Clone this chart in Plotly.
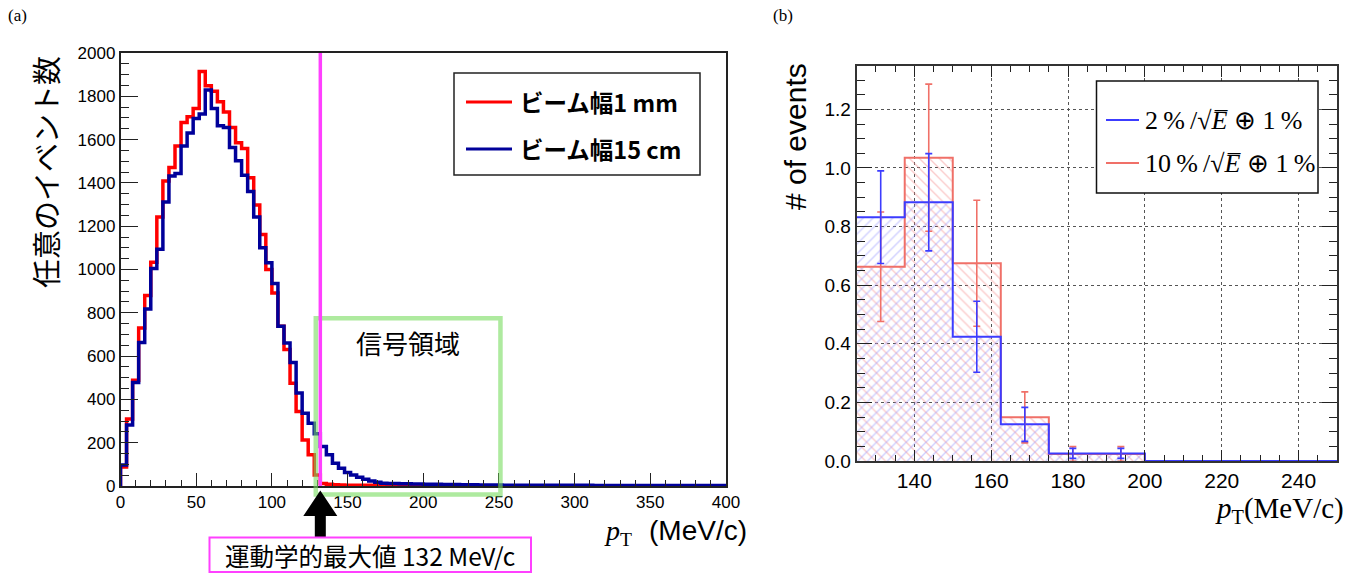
import plotly.graph_objects as go

W, H = 1369, 574

# ---------------- panel (a) data ----------------
a_bin_width = 4  # MeV/c
a_nbins = 100
red_1mm = [88, 310, 488, 730, 880, 1034, 1242, 1409, 1471, 1571, 1679, 1705, 1744, 1914, 1849, 1823,
           1775, 1728, 1656, 1586, 1559, 1424, 1298, 1162, 1000, 892, 738, 630, 475, 344, 213, 144, 51,
           12, 8, 6, 5, 4, 4, 3, 3, 3, 2,
           2, 2, 2, 2, 1, 1, 1, 1, 1, 1,
           1, 1, 1, 1, 1, 0, 0, 0, 0, 0,
           0, 0, 0, 0, 0, 0, 0, 0, 0, 0,
           0, 0, 0, 0, 0, 0, 0, 0, 0, 0,
           0, 0, 0, 0, 0, 0, 0, 0, 0, 0,
           0, 0, 0, 0, 0, 0, 0]
blue_15cm = [97, 282, 478, 663, 818, 1005, 1093, 1312, 1432, 1443, 1571, 1630, 1698, 1718, 1829, 1744,
             1664, 1656, 1563, 1502, 1435, 1360, 1242, 1100, 1031, 935, 738, 661, 571, 429, 336, 290, 241, 182, 144,
             105, 82, 62, 51, 40, 31, 23, 17, 13, 12,
             11, 10, 10, 9, 9, 8, 8, 8, 7, 7,
             7, 6, 6, 6, 5, 5, 5, 5, 4, 4,
             4, 4, 4, 4, 3, 3, 3, 3, 3, 3,
             3, 3, 3, 2, 2, 2, 2, 2, 2, 2,
             2, 2, 2, 2, 2, 2, 2, 2, 2, 2,
             2, 2, 2, 2, 2]
a_legend = ["ビーム幅1 mm", "ビーム幅15 cm"]
kin_max = 132
kin_label = "運動学的最大値 132 MeV/c"
signal_label = "信号領域"
signal_x = (129, 251)
signal_top = 775

# ---------------- panel (b) data ----------------
b_start = 125
b_bin_width = 12.5
b_nbins = 10
blue_2pct = [0.832, 0.883, 0.424, 0.125, 0.026, 0.026, 0, 0, 0, 0]
blue_2pct_err = [0.158, 0.166, 0.121, 0.058, 0.017, 0.017, 0, 0, 0, 0]
red_10pct = [0.663, 1.035, 0.675, 0.149, 0.024, 0.024, 0, 0, 0, 0]
red_10pct_err = [0.187, 0.251, 0.215, 0.087, 0.025, 0.025, 0, 0, 0, 0]
b_legend = ["2\u2009%\u2009/\u221a<i>E\u0305</i> \u2295 1\u2009%",
            "10\u2009%\u2009/\u221a<i>E\u0305</i> \u2295 1\u2009%"]

# ---------------- geometry (pixels) ----------------
A_L, A_R, A_T, A_B = 120.5, 726, 53, 486
B_L, B_R, B_T, B_B = 856.7, 1337, 66, 461
A_XR = (0, 400); A_YR = (0, 2000)
B_XR = (125, 250); B_YR = (0, 1.348)


def px(x):
    return x / W


def py(y):
    return 1 - y / H


def ax_px(v):  # panel (a) data x -> pixel
    return A_L + (v - A_XR[0]) / (A_XR[1] - A_XR[0]) * (A_R - A_L)


def ay_px(v):
    return A_B - (v - A_YR[0]) / (A_YR[1] - A_YR[0]) * (A_B - A_T)


def step_xy(edges, vals, start_zero=True):
    xs = list(edges)
    ys = list(vals) + [vals[-1]]
    if start_zero:
        xs = [edges[0]] + xs
        ys = [0] + ys
    return xs, ys


a_edges = [i * a_bin_width for i in range(a_nbins + 1)]
b_edges = [b_start + i * b_bin_width for i in range(b_nbins + 1)]
b_centers = [b_start + (i + 0.5) * b_bin_width for i in range(b_nbins)]

RED_A = "#ff0000"
BLUE_A = "#00009a"
BLUE_B = "#3c3cff"
RED_B = "#f07068"

fig = go.Figure()

# panel (a) histograms
xr, yr = step_xy(a_edges, red_1mm)
fig.add_trace(go.Scatter(x=xr, y=yr, mode="lines", line=dict(color=RED_A, width=3.5, shape="hv"),
                         xaxis="x", yaxis="y", showlegend=False, hoverinfo="skip"))
xb, yb = step_xy(a_edges, blue_15cm)
fig.add_trace(go.Scatter(x=xb, y=yb, mode="lines", line=dict(color=BLUE_A, width=3.5, shape="hv"),
                         xaxis="x", yaxis="y", showlegend=False, hoverinfo="skip"))

# panel (b) hatched fills
fig.add_trace(go.Bar(x=b_centers, y=red_10pct, width=b_bin_width, xaxis="x2", yaxis="y2",
                     marker=dict(color="rgba(0,0,0,0)", line=dict(width=0),
                                 pattern=dict(shape="\\", fgcolor="rgba(245,140,140,0.9)",
                                              bgcolor="rgba(0,0,0,0)", fillmode="overlay",
                                              size=7, solidity=0.2)),
                     showlegend=False, hoverinfo="skip"))
fig.add_trace(go.Bar(x=b_centers, y=blue_2pct, width=b_bin_width, xaxis="x2", yaxis="y2",
                     marker=dict(color="rgba(0,0,0,0)", line=dict(width=0),
                                 pattern=dict(shape="/", fgcolor="rgba(150,150,255,0.9)",
                                              bgcolor="rgba(0,0,0,0)", fillmode="overlay",
                                              size=7, solidity=0.2)),
                     showlegend=False, hoverinfo="skip"))
# outlines
xr2, yr2 = step_xy(b_edges, red_10pct, start_zero=False)
fig.add_trace(go.Scatter(x=xr2, y=yr2, mode="lines", line=dict(color=RED_B, width=2, shape="hv"),
                         xaxis="x2", yaxis="y2", showlegend=False, hoverinfo="skip"))
xb2, yb2 = step_xy(b_edges, blue_2pct, start_zero=False)
fig.add_trace(go.Scatter(x=xb2, y=yb2, mode="lines", line=dict(color=BLUE_B, width=2, shape="hv"),
                         xaxis="x2", yaxis="y2", showlegend=False, hoverinfo="skip"))
# error bars (only bins with content)
nz = [i for i in range(b_nbins) if blue_2pct[i] > 0]
fig.add_trace(go.Scatter(x=[b_centers[i] for i in nz], y=[red_10pct[i] for i in nz], mode="markers",
                         marker=dict(size=1, color="rgba(0,0,0,0)"),
                         error_y=dict(type="data", array=[red_10pct_err[i] for i in nz], color=RED_B,
                                      thickness=1.6, width=3.5),
                         xaxis="x2", yaxis="y2", showlegend=False, hoverinfo="skip"))
fig.add_trace(go.Scatter(x=[b_centers[i] for i in nz], y=[blue_2pct[i] for i in nz], mode="markers",
                         marker=dict(size=1, color="rgba(0,0,0,0)"),
                         error_y=dict(type="data", array=[blue_2pct_err[i] for i in nz], color=BLUE_B,
                                      thickness=1.6, width=3.5),
                         xaxis="x2", yaxis="y2", showlegend=False, hoverinfo="skip"))

SANS = "Liberation Sans"
SERIF = "Liberation Serif"
CJK = "Noto Sans CJK JP"

axis_common = dict(showline=True, ticks="inside", zeroline=False, tickcolor="#222",
                   ticklabelposition="outside", automargin=False)

fig.update_layout(
    width=W, height=H, margin=dict(l=0, r=0, t=0, b=0, pad=0), autosize=False,
    paper_bgcolor="white", plot_bgcolor="white", barmode="overlay", bargap=0, showlegend=False,
    xaxis=dict(domain=[px(A_L), px(A_R)], range=list(A_XR), anchor="y", tick0=0, dtick=50,
               ticklen=13, mirror=True, linecolor="#222", linewidth=1.5, showgrid=False,
               tickfont=dict(family=SANS, size=17, color="black"),
               minor=dict(dtick=10, ticklen=6, ticks="inside", tickcolor="#222", showgrid=False),
               **axis_common),
    yaxis=dict(domain=[py(A_B), py(A_T)], range=list(A_YR), anchor="x", tick0=0, dtick=200,
               ticklen=18, mirror=True, linecolor="#222", linewidth=1.5, showgrid=False,
               tickfont=dict(family=SANS, size=17, color="black"),
               minor=dict(dtick=50, ticklen=9, ticks="inside", tickcolor="#222", showgrid=False),
               **axis_common),
    xaxis2=dict(domain=[px(B_L), px(B_R)], range=list(B_XR), anchor="y2", tick0=0, dtick=20,
                ticklen=11, mirror="ticks", linecolor="#333", linewidth=2,
                showgrid=True, gridcolor="#555", griddash="dot", gridwidth=1,
                tickfont=dict(family=SANS, size=21, color="black"),
                minor=dict(dtick=5, ticklen=6, ticks="inside", tickcolor="#222", showgrid=False),
                **axis_common),
    yaxis2=dict(domain=[py(B_B), py(B_T)], range=list(B_YR), anchor="x2", tick0=0, dtick=0.2,
                tickformat=".1f", ticklen=15, mirror="ticks", linecolor="#333", linewidth=2,
                showgrid=True, gridcolor="#555", griddash="dot", gridwidth=1,
                tickfont=dict(family=SANS, size=19, color="black"),
                minor=dict(dtick=0.05, ticklen=8, ticks="inside", tickcolor="#222", showgrid=False),
                **axis_common),
)

shapes = []
annotations = []


def ann(text, x, y, size, family=SANS, xanchor="center", yanchor="middle", angle=0, color="black"):
    annotations.append(dict(text=text, x=px(x), y=py(y), xref="paper", yref="paper", showarrow=False,
                            xanchor=xanchor, yanchor=yanchor, textangle=angle,
                            font=dict(family=family, size=size, color=color)))


# panel labels
ann("(a)", 17, 16, 17, SERIF)
ann("(b)", 783, 16, 17, SERIF)

# panel (a) titles
ann("任意のイベント数", 45, 172, 29, CJK, angle=-90)
ann("<i>p</i><sub>T</sub>", 634, 532, 28, SERIF, xanchor="right")
ann("(MeV/c)", 749, 530, 28, SANS, xanchor="right")

# signal region box (semi-transparent green, extends below axis)
shapes.append(dict(type="rect", xref="paper", yref="paper",
                   x0=px(ax_px(signal_x[0])), x1=px(ax_px(signal_x[1])),
                   y0=py(494.5), y1=py(ay_px(signal_top)),
                   line=dict(color="rgba(120,220,95,0.6)", width=4.5), fillcolor="rgba(0,0,0,0)",
                   layer="above"))
ann(signal_label, ax_px(190), ay_px(665), 26, CJK)

# kinematic maximum line
shapes.append(dict(type="line", xref="x", yref="paper", x0=kin_max, x1=kin_max,
                   y0=py(A_B), y1=py(A_T), line=dict(color="#ff40ff", width=3.5), layer="above"))

# arrow
xa = ax_px(kin_max)
path = (f"M {px(xa)},{py(490.5)} L {px(xa + 17)},{py(516)} L {px(xa + 5.5)},{py(516)} "
        f"L {px(xa + 5.5)},{py(537)} L {px(xa - 5.5)},{py(537)} L {px(xa - 5.5)},{py(516)} "
        f"L {px(xa - 17)},{py(516)} Z")
shapes.append(dict(type="path", xref="paper", yref="paper", path=path, fillcolor="black",
                   line=dict(color="black", width=0), layer="above"))
# kinematic max label box
shapes.append(dict(type="rect", xref="paper", yref="paper", x0=px(209.5), x1=px(531),
                   y0=py(572), y1=py(537.5), line=dict(color="#ff40ff", width=2),
                   fillcolor="white", layer="above"))
ann(kin_label, 370, 555, 24.5, CJK)

# panel (a) legend
shapes.append(dict(type="rect", xref="paper", yref="paper", x0=px(454), x1=px(700),
                   y0=py(175), y1=py(73), line=dict(color="#222", width=1.5),
                   fillcolor="white", layer="above"))
for yy, col, lab in [(102, RED_A, a_legend[0]), (149, BLUE_A, a_legend[1])]:
    shapes.append(dict(type="line", xref="paper", yref="paper", x0=px(466), x1=px(512),
                       y0=py(yy), y1=py(yy), line=dict(color=col, width=3), layer="above"))
    ann(f"<b>{lab}</b>", 518, yy, 23.5, CJK, xanchor="left")

# panel (b) titles
ann("# of events", 795, 137, 30, SANS, angle=-90)
ann("<i>p</i><sub>T</sub>(MeV/c)", 1346, 510, 29, SERIF, xanchor="right")

# panel (b) legend
shapes.append(dict(type="rect", xref="paper", yref="paper", x0=px(1096.5), x1=px(1318),
                   y0=py(193), y1=py(81), line=dict(color="#111", width=1.5),
                   fillcolor="white", layer="above"))
for yy, col, lab in [(120, BLUE_B, b_legend[0]), (163, RED_B, b_legend[1])]:
    shapes.append(dict(type="line", xref="paper", yref="paper", x0=px(1106), x1=px(1139),
                       y0=py(yy), y1=py(yy), line=dict(color=col, width=2), layer="above"))
    ann(lab, 1143, yy, 26, SERIF, xanchor="left")

fig.update_layout(shapes=shapes, annotations=annotations)
fig.write_html("out.html")
